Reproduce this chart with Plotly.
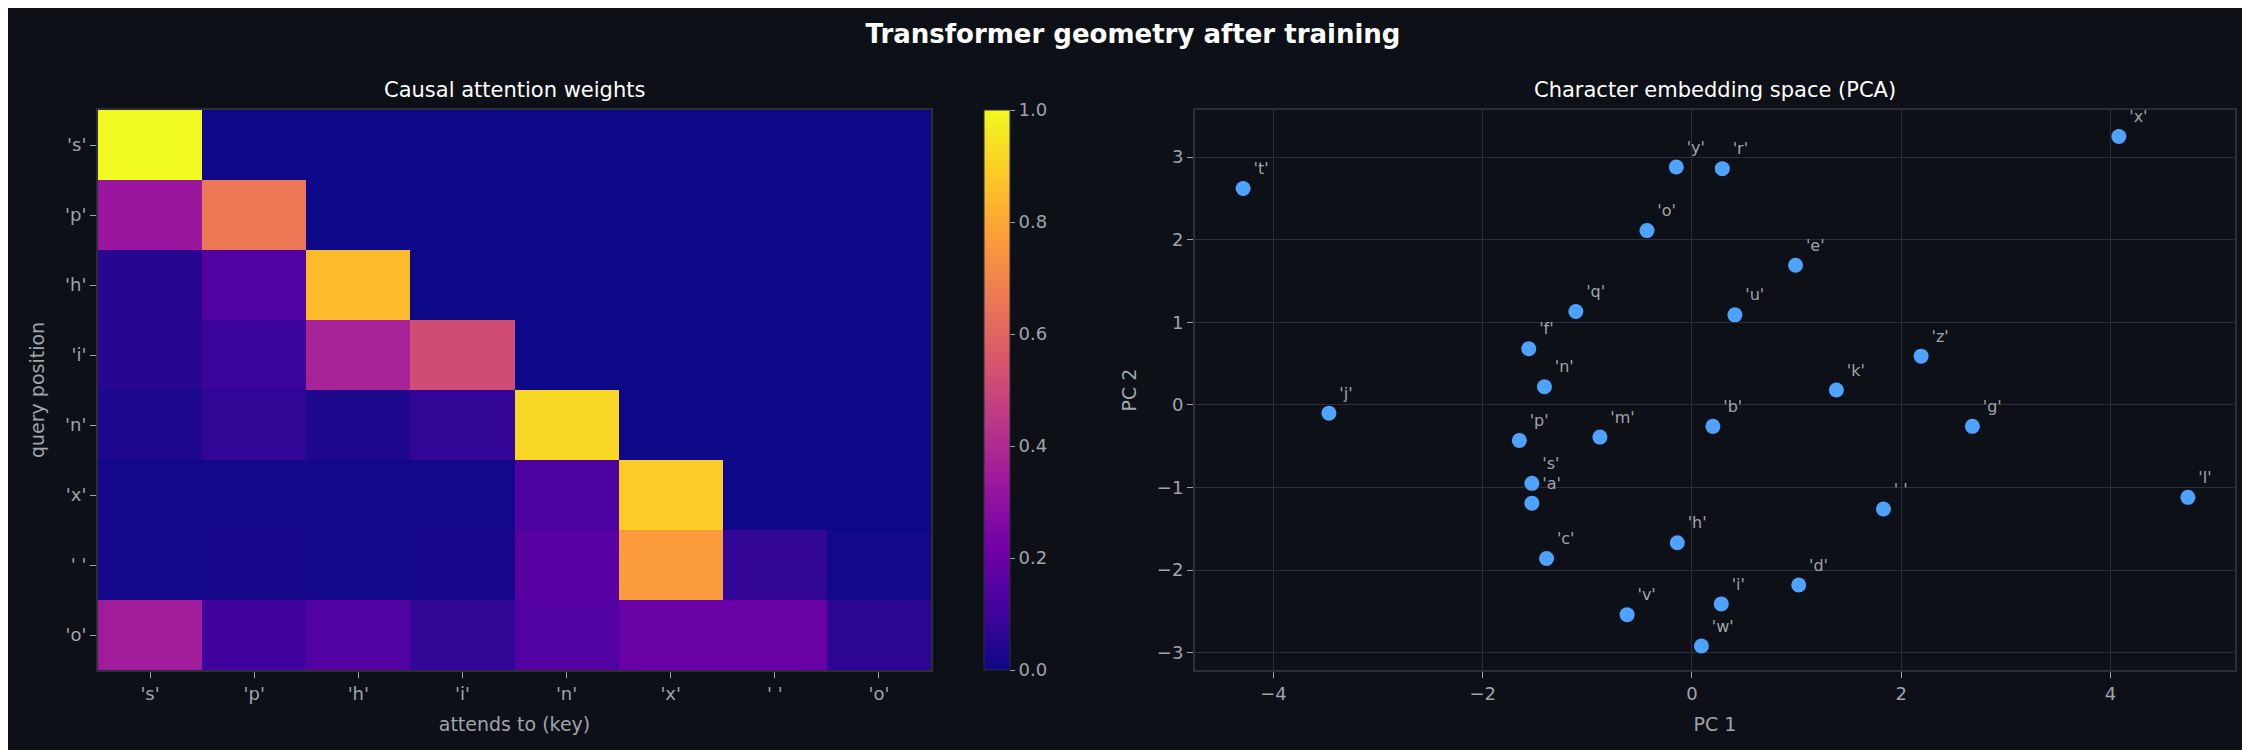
import plotly.graph_objects as go

tokens = ["'s'", "'p'", "'h'", "'i'", "'n'", "'x'", "' '", "'o'"]
attn = [
    [1.00, 0, 0, 0, 0, 0, 0, 0],
    [0.33, 0.66, 0, 0, 0, 0, 0, 0],
    [0.05, 0.14, 0.85, 0, 0, 0, 0, 0],
    [0.05, 0.09, 0.37, 0.52, 0, 0, 0, 0],
    [0.03, 0.07, 0.03, 0.07, 0.92, 0, 0, 0],
    [0.01, 0.01, 0.01, 0.01, 0.13, 0.89, 0, 0],
    [0.01, 0.02, 0.01, 0.02, 0.16, 0.77, 0.07, 0.01],
    [0.35, 0.10, 0.14, 0.07, 0.14, 0.20, 0.20, 0.06],
]
chars = ["'t'","'j'","'f'","'n'","'q'","'p'","'m'","'s'","'a'","'c'","'v'","'h'","'w'","'i'","'d'",
         "'b'","'y'","'r'","'o'","'e'","'u'","'k'","'z'","'g'","' '","'l'","'x'"]
pc1 = [-4.29,-3.47,-1.56,-1.41,-1.11,-1.65,-0.88,-1.53,-1.53,-1.39,-0.62,-0.14,0.09,0.28,1.02,
       0.20,-0.15,0.29,-0.43,0.99,0.41,1.38,2.19,2.68,1.83,4.74,4.08]
pc2 = [2.62,-0.10,0.68,0.22,1.13,-0.43,-0.39,-0.95,-1.19,-1.86,-2.54,-1.67,-2.92,-2.41,-2.18,
       -0.26,2.88,2.86,2.11,1.69,1.09,0.18,0.59,-0.26,-1.26,-1.12,3.25]

BG = "#0d1017"
GRID = "#2a2e36"
TICK = "#a0a4ab"
W, H = 2250, 750

fig = go.Figure()
fig.add_trace(go.Heatmap(
    z=attn, x=tokens, y=tokens, colorscale="Plasma", zmin=0, zmax=1,
    xaxis="x", yaxis="y",
    colorbar=dict(x=976/W, xanchor="left", xpad=0, ypad=0, y=1-102/H, yanchor="top", len=560/H,
                  thickness=26, outlinewidth=1, outlinecolor=GRID,
                  tickvals=[0, 0.2, 0.4, 0.6, 0.8, 1.0], ticktext=["0.0","0.2","0.4","0.6","0.8","1.0"],
                  ticks="outside", tickcolor=TICK, tickfont=dict(color=TICK, size=18)),
))
fig.add_trace(go.Scatter(
    x=pc1, y=pc2, mode="markers+text", text=chars, textposition="top right",
    marker=dict(size=15, color="#4da3ff"), textfont=dict(color=TICK, size=16),
    xaxis="x2", yaxis="y2", showlegend=False, cliponaxis=False,
))

ax_common = dict(color=TICK, tickfont=dict(color=TICK, size=18), showline=True, linecolor=GRID,
                 linewidth=2, mirror=True, ticks="outside", tickcolor=TICK, ticklen=6)
fig.update_layout(
    width=W, height=H, paper_bgcolor=BG, plot_bgcolor=BG,
    font=dict(family="DejaVu Sans", color=TICK),
    margin=dict(l=0, r=0, t=0, b=0),
    title=dict(text="<b>Transformer geometry after training</b>", x=0.5, xanchor="center", y=1-26/H, yanchor="middle",
               font=dict(size=26, color="white")),
    xaxis=dict(domain=[90/W, 923/W], anchor="y", showgrid=False,
               title=dict(text="attends to (key)", font=dict(size=19, color=TICK)), **ax_common),
    yaxis=dict(domain=[1-662/H, 1-102/H], anchor="x", autorange="reversed", showgrid=False,
               title=dict(text="query position", font=dict(size=19, color=TICK)), **ax_common),
    xaxis2=dict(domain=[1187/W, 2227/W], anchor="y2", range=[-4.75, 5.19], gridcolor=GRID, zeroline=False,
                tickvals=[-4,-2,0,2,4], ticktext=["−4","−2","0","2","4"],
                title=dict(text="PC 1", font=dict(size=19, color=TICK)), **ax_common),
    yaxis2=dict(domain=[1-662/H, 1-102/H], anchor="x2", range=[-3.21, 3.57], gridcolor=GRID, zeroline=False,
                tickvals=[-3,-2,-1,0,1,2,3], ticktext=["−3","−2","−1","0","1","2","3"],
                title=dict(text="PC 2", font=dict(size=19, color=TICK)), **ax_common),
    annotations=[
        dict(text="Causal attention weights", x=(90+923)/2/W, y=1-82/H, xref="paper", yref="paper",
             xanchor="center", yanchor="middle", showarrow=False, font=dict(size=21, color="white")),
        dict(text="Character embedding space (PCA)", x=(1187+2227)/2/W, y=1-82/H, xref="paper", yref="paper",
             xanchor="center", yanchor="middle", showarrow=False, font=dict(size=21, color="white")),
    ],
)
fig.write_html("out.html")
